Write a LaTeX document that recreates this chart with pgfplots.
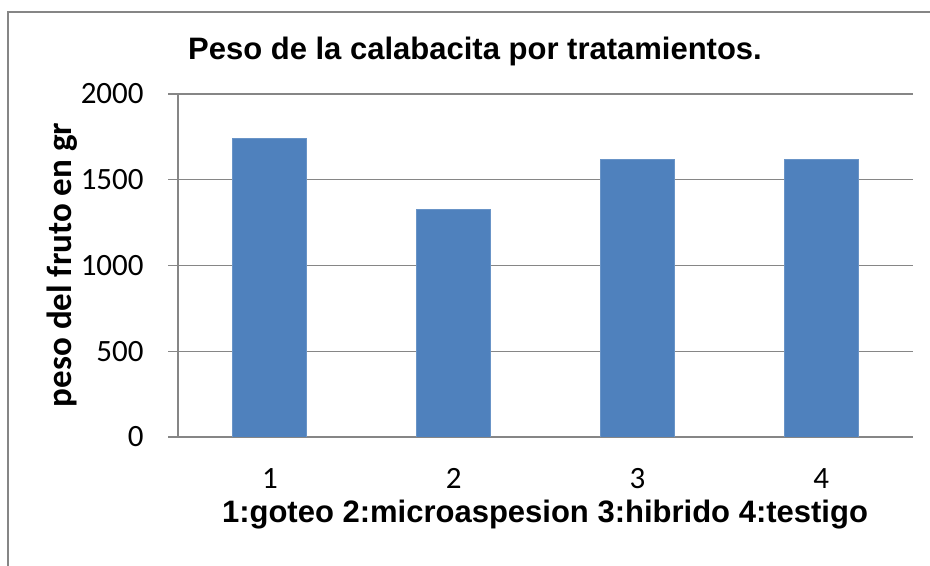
\documentclass[border=0pt]{standalone}
\usepackage{fontspec}
\setmainfont{Liberation Sans}
\newfontfamily\calfont{Carlito}
\usepackage{pgfplots}
\pgfplotsset{compat=1.18}
\definecolor{barblue}{HTML}{4F81BD}
\definecolor{axisgray}{HTML}{868686}

\begin{document}
\begin{tikzpicture}[x=0.5pt,y=0.5pt]
  % picture area, 930 x 566 px at 0.5pt per px
  \useasboundingbox (0,0) rectangle (930,566);
  \draw[axisgray, line width=0.8pt] (8,0) -- (8,554) -- (930,554);

  \begin{axis}[
      at={(89pt,64.5pt)}, anchor=south west,
      scale only axis,
      width=367.5pt, height=171.5pt,
      xmin=0.5, xmax=4.5, ymin=0, ymax=2000,
      xtick={1,2,3,4}, ytick={0,500,1000,1500,2000},
      axis lines*=left,
      axis line style={axisgray, line width=0.8pt},
      ymajorgrids=true,
      grid style={axisgray, line width=0.7pt},
      tick align=outside,
      major tick length=5pt,
      ytick style={axisgray, line width=0.7pt},
      xtick style={draw=none},
      /pgf/number format/assume math mode=true,
      /pgf/number format/1000 sep={},
      tick label style={font=\calfont\fontsize{15.5}{18}\selectfont, inner sep=0pt},
      yticklabel style={anchor=east, xshift=-12pt},
      xticklabel style={anchor=north, yshift=-10.5pt},
    ]
    \addplot[ybar, bar width=37pt, fill=barblue, draw=barblue!85!white]
      coordinates {(1,1742) (2,1327) (3,1619) (4,1619)};
  \end{axis}

  \node[anchor=base, inner sep=0pt, font=\bfseries\fontsize{15.5}{18}\selectfont]
    at (475,506) {Peso de la calabacita por tratamientos.};
  \node[anchor=base, inner sep=0pt, font=\bfseries\fontsize{15.5}{18}\selectfont]
    at (545,43) {1:goteo 2:microaspesion 3:hibrido 4:testigo};
  \node[anchor=north, rotate=90, inner sep=0pt, font=\calfont\bfseries\fontsize{17.5}{20}\selectfont]
    at (47,301) {peso del fruto en gr};
\end{tikzpicture}
\end{document}
